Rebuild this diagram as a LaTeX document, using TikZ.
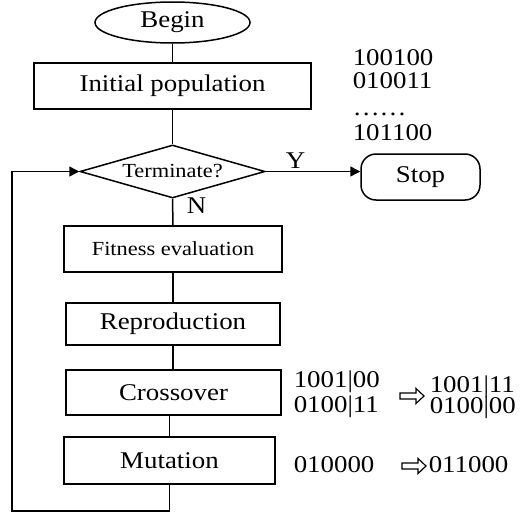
\documentclass[tikz,border=0pt]{standalone}
\usepackage{fontspec}
\setmainfont{Liberation Serif}[FakeStretch=1.12]
\usetikzlibrary{shapes.geometric,arrows.meta}
\begin{document}
\begin{tikzpicture}[x=0.5pt,y=-0.5pt,line width=0.75pt,
  bigfont/.style={font=\fontsize{12}{14}\selectfont},
  smallfont/.style={font=\fontsize{10}{12}\selectfont},
  box/.style={draw,rectangle,inner sep=0pt,bigfont},
  numtext/.style={inner sep=0pt,anchor=base west,bigfont},
  arr/.style={-{Triangle[length=5pt,width=5pt]}},
  harrow/.pic={\draw[line width=0.6pt,fill=white] (0,-3) -- (16,-3) -- (16,-7.5) -- (24,0) -- (16,7.5) -- (16,3) -- (0,3) -- cycle;}]
\useasboundingbox (0,0) rectangle (525,514);
% nodes
\node[draw,ellipse,inner sep=0pt,minimum width=77.5pt,minimum height=20.5pt,bigfont] (begin) at (172.5,22.5) {Begin};
\node[box,minimum width=138.5pt,minimum height=23pt] (init) at (172.5,86) {Initial population};
\node[draw,diamond,shape aspect=3.5,inner sep=0pt,minimum width=92.5pt,minimum height=26.5pt,smallfont] (term) at (172.5,171.5) {Terminate?};
\node[draw,rectangle,rounded corners=7.5pt,inner sep=0pt,minimum width=59.5pt,minimum height=23pt,bigfont] (stop) at (420.5,177) {Stop};
\node[box,smallfont,minimum width=109pt,minimum height=23pt] (fit) at (173,249) {Fitness evaluation};
\node[box,minimum width=107pt,minimum height=21pt] (rep) at (173,324) {Reproduction};
\node[box,minimum width=107.5pt,minimum height=22.5pt] (cro) at (173.5,392.5) {Crossover};
\node[box,minimum width=105.5pt,minimum height=23.5pt] (mut) at (169.5,460.5) {Mutation};
% labels
\node[bigfont,inner sep=0pt] (ylab) at (295.5,160.5) {Y};
\node[bigfont,inner sep=0pt] (nlab) at (196.5,205.5) {N};
% population strings
\node[numtext] (p1) at (352,65) {100100};
\node[numtext] (p2) at (352,88) {010011};
\node[numtext] (p3) at (352,115) {……};
\node[numtext] (p4) at (352,140) {101100};
% crossover strings
\node[numtext] (x1) at (293,387) {1001|00};
\node[numtext] (x2) at (293,412.5) {0100|11};
\node[numtext] (x3) at (429,392) {1001|11};
\node[numtext] (x4) at (429,413) {0100|00};
% mutation strings
\node[numtext] (m1) at (293,472) {010000};
\node[numtext] (m2) at (428,472) {011000};
% hollow arrows
\pic (ha1) at (400,396) {harrow};
\pic (ha2) at (402,466) {harrow};
% connectors
\draw (begin.south) -- (init.north);
\draw (init.south) -- (term.north);
\draw (term.south) -- (fit.north);
\draw (fit.south) -- (rep.north);
\draw (rep.south) -- (rep.south |- cro.north);
\draw (mut.north |- cro.south) -- (mut.north);
\coordinate (fb1) at (169.5,511);
\coordinate (fb2) at (12,511);
\draw[arr] (mut.south) -- (fb1) -- (fb2) |- (term.west);
\draw[arr] (term.east) -- (term.east -| stop.west);
\end{tikzpicture}
\end{document}
